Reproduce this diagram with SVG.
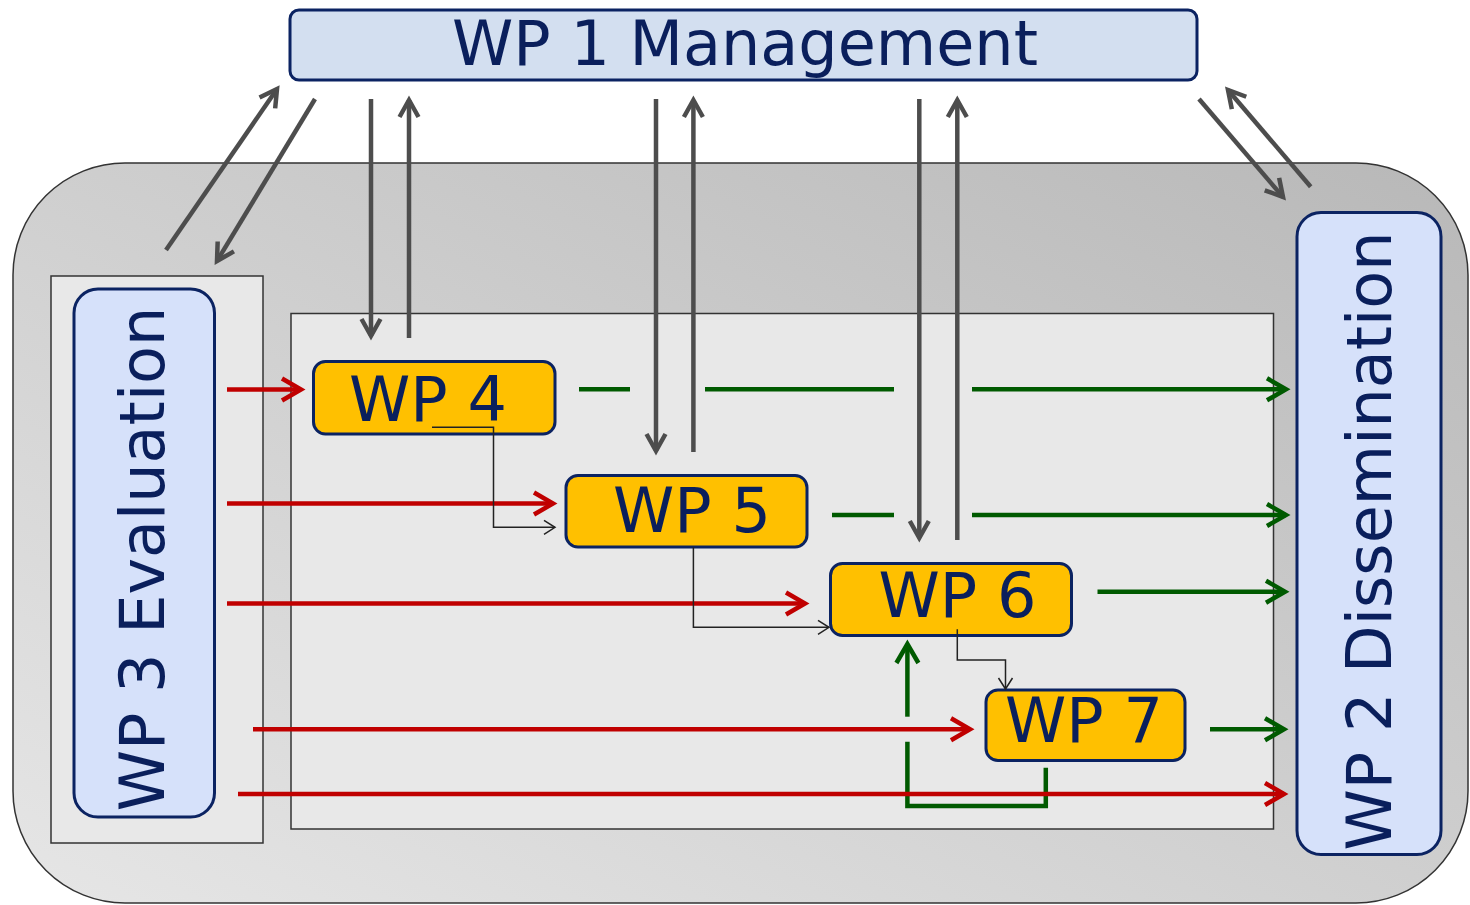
<svg xmlns="http://www.w3.org/2000/svg" width="1470" height="905" viewBox="0 0 1470 905">
<defs>
<linearGradient id="bg" x1="1" y1="0" x2="0" y2="1">
<stop offset="0" stop-color="#b8b8b8"/>
<stop offset="1" stop-color="#e6e6e6"/>
</linearGradient>
<marker id="ag" markerUnits="userSpaceOnUse" markerWidth="40" markerHeight="40" refX="0" refY="0" orient="auto" overflow="visible">
<path d="M-17,-9.5 L0,0 L-17,9.5" fill="none" stroke="#4d4d4d" stroke-width="4.5" stroke-linecap="butt" stroke-linejoin="miter"/>
</marker>
<marker id="ar" markerUnits="userSpaceOnUse" markerWidth="40" markerHeight="40" refX="0" refY="0" orient="auto" overflow="visible">
<path d="M-19,-11 L0,0 L-19,11" fill="none" stroke="#c00000" stroke-width="4.5" stroke-linejoin="miter"/>
</marker>
<marker id="agr" markerUnits="userSpaceOnUse" markerWidth="40" markerHeight="40" refX="0" refY="0" orient="auto" overflow="visible">
<path d="M-19,-11 L0,0 L-19,11" fill="none" stroke="#005a00" stroke-width="4.5" stroke-linejoin="miter"/>
</marker>
<marker id="ak" markerUnits="userSpaceOnUse" markerWidth="20" markerHeight="20" refX="0" refY="0" orient="auto" overflow="visible">
<path d="M-11,-7 L0,0 L-11,7" fill="none" stroke="#222" stroke-width="1.5"/>
</marker>
</defs>
<style>
.panel{fill:#e8e8e8;stroke:#333;stroke-width:1.5}
.blue{fill:#d6e1fa;stroke:#0b2362;stroke-width:3}
.wp{fill:#ffc000;stroke:#0b2362;stroke-width:3}
.t{font-family:"DejaVu Sans","Liberation Sans",sans-serif;fill:#0a1f5c;text-anchor:middle}
.g{fill:none;stroke:#4d4d4d;stroke-width:4.5;marker-end:url(#ag)}
.r{fill:none;stroke:#c00000;stroke-width:4.5;marker-end:url(#ar)}
.gr{fill:none;stroke:#005a00;stroke-width:4.5}
.gra{marker-end:url(#agr)}
.k{fill:none;stroke:#222;stroke-width:1.5;marker-end:url(#ak)}
</style>
<g id="frame">
<rect x="13" y="163" width="1455" height="740" rx="112" ry="112" fill="url(#bg)" stroke="#333" stroke-width="1.5"/>
</g>
<g id="eval-panel">
<rect class="panel" x="51" y="276" width="212" height="567"/>
</g>
<g id="work-panel">
<rect class="panel" x="291" y="313.5" width="982.5" height="515.5"/>
</g>
<g id="wp1">
<rect x="290" y="10" width="907" height="70" rx="9" fill="#d3dff0" stroke="#0b2362" stroke-width="3"/>
<text class="t" x="745" y="65" font-size="62">WP 1 Management</text>
</g>
<g id="wp3">
<rect class="blue" x="74" y="289" width="140.5" height="528" rx="24"/>
<text class="t" font-size="62" transform="translate(163.5,559) rotate(-90)">WP 3 Evaluation</text>
</g>
<g id="wp2">
<rect class="blue" x="1297" y="212.5" width="144" height="642" rx="24"/>
<text class="t" font-size="62" transform="translate(1390.5,541) rotate(-90)">WP 2 Dissemination</text>
</g>
<g id="wp4">
<rect class="wp" x="313.5" y="361.5" width="241.5" height="72.5" rx="12"/>
<text class="t" x="428" y="421" font-size="62">WP 4</text>
</g>
<g id="wp5">
<rect class="wp" x="566" y="475.5" width="241" height="71.5" rx="12"/>
<text class="t" x="692" y="532" font-size="62">WP 5</text>
</g>
<g id="wp6">
<rect class="wp" x="830.5" y="563.5" width="241" height="72" rx="12"/>
<text class="t" x="957.5" y="617" font-size="62">WP 6</text>
</g>
<g id="wp7">
<rect class="wp" x="986" y="690" width="199" height="70.5" rx="12"/>
<text class="t" x="1084" y="742" font-size="62">WP 7</text>
</g>
<g id="connectors">
<!-- green outputs -->
<path class="gr" d="M579,389.3 H630 M705,389.3 H894"/>
<path class="gr gra" d="M972,389.3 H1286"/>
<path class="gr" d="M832,515 H894"/>
<path class="gr gra" d="M972,515 H1286"/>
<path class="gr gra" d="M1097.5,591.7 H1285"/>
<path class="gr gra" d="M1210,729.3 H1284"/>
<path class="gr gra" d="M907.4,716.7 V644"/>
<path class="gr" d="M907.4,741.7 V806 H1045.8 V767.7" stroke-linejoin="miter"/>
<!-- management links -->
<path class="g" d="M166,250 L277,89"/>
<path class="g" d="M315,99 L217,261"/>
<path class="g" d="M371,99 V336"/>
<path class="g" d="M409,338 V100"/>
<path class="g" d="M656,99 V451"/>
<path class="g" d="M693.4,452 V100"/>
<path class="g" d="M919.3,99 V538"/>
<path class="g" d="M957.3,540 V100"/>
<path class="g" d="M1199,99 L1283,197"/>
<path class="g" d="M1310.7,186.7 L1228,90"/>
<!-- evaluation links -->
<path class="r" d="M227,389.5 H301"/>
<path class="r" d="M227,503.5 H553"/>
<path class="r" d="M227,603.5 H805"/>
<path class="r" d="M253,729.3 H970"/>
<path class="r" d="M238,794 H1284"/>
<!-- dependencies -->
<path class="k" d="M432,427.3 H493.5 V527.3 H555"/>
<path class="k" d="M693.4,547.3 V627.3 H829"/>
<path class="k" d="M957.3,629.3 V660 H1005.5 V689"/>
</g>
</svg>
